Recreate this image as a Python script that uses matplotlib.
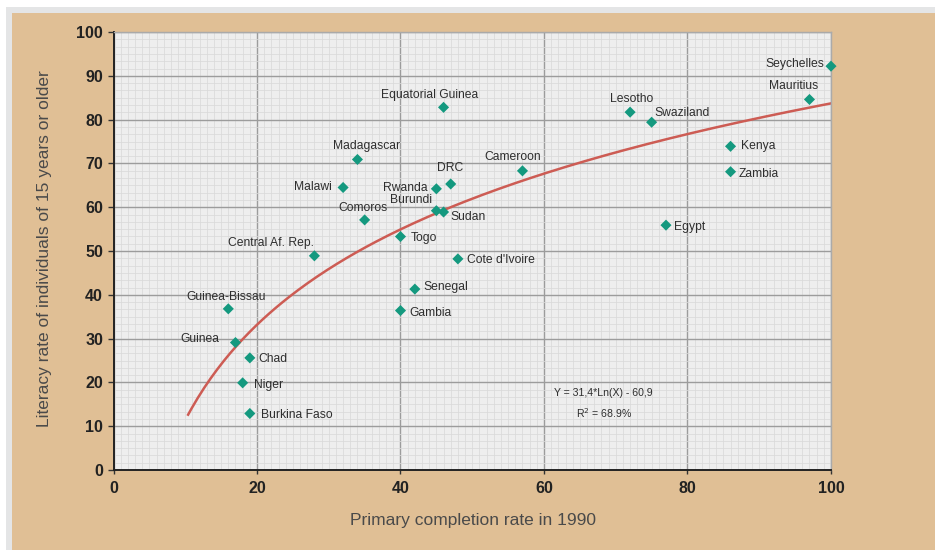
import matplotlib.pyplot as plt
import numpy as np
from matplotlib.patches import Rectangle
from matplotlib.ticker import MultipleLocator

# primary completion rate 1990 (x) vs literacy rate 15+ (y)
countries = [
    "Seychelles", "Mauritius", "Lesotho", "Swaziland", "Kenya", "Zambia",
    "Egypt", "Equatorial Guinea", "Madagascar", "Cameroon", "DRC", "Rwanda",
    "Burundi", "Malawi", "Comoros", "Sudan", "Togo", "Cote d'Ivoire",
    "Central Af. Rep.", "Senegal", "Gambia", "Guinea-Bissau", "Guinea",
    "Chad", "Niger", "Burkina Faso",
]
completion = [100, 97, 72, 75, 86, 86, 77, 46, 34, 57, 47, 45,
              45, 32, 35, 46, 40, 48, 28, 42, 40, 16, 17, 19, 18, 19]
literacy = [92.2, 84.6, 81.7, 79.4, 73.9, 68.1, 55.9, 82.8, 70.9, 68.3, 65.3, 64.2,
            59.2, 64.5, 57.1, 58.9, 53.3, 48.2, 48.9, 41.3, 36.4, 36.8, 29.1,
            25.6, 19.9, 12.9]

# trend: Y = 31,4*Ln(X) - 60,9
fit_a, fit_b = 31.4, -60.9
fit_start, fit_end = 10.4, 100

# label placement: (dx px, dy px, ha, va)
label_pos = {
    "Seychelles": (-7, 2, "right", "center"),
    "Mauritius": (9, 7, "right", "bottom"),
    "Lesotho": (2, 7, "center", "bottom"),
    "Swaziland": (3, 3, "left", "bottom"),
    "Kenya": (10, 0, "left", "center"),
    "Zambia": (8, -2, "left", "center"),
    "Egypt": (8, -2, "left", "center"),
    "Equatorial Guinea": (-14, 6, "center", "bottom"),
    "Madagascar": (9, 7, "center", "bottom"),
    "Cameroon": (-10, 8, "center", "bottom"),
    "DRC": (-1, 10, "center", "bottom"),
    "Rwanda": (-9, 1, "right", "center"),
    "Burundi": (-4, 11, "right", "center"),
    "Malawi": (-11, 0, "right", "center"),
    "Comoros": (-2, 12, "center", "center"),
    "Sudan": (7, -5, "left", "center"),
    "Togo": (10, -1, "left", "center"),
    "Cote d'Ivoire": (9, -1, "left", "center"),
    "Central Af. Rep.": (0, 13, "right", "center"),
    "Senegal": (9, 2, "left", "center"),
    "Gambia": (9, -2, "left", "center"),
    "Guinea-Bissau": (-2, 12, "center", "center"),
    "Guinea": (-16, 4, "right", "center"),
    "Chad": (9, -1, "left", "center"),
    "Niger": (11, -2, "left", "center"),
    "Burkina Faso": (11, -2, "left", "center"),
}

plt.rcParams["font.family"] = ["Liberation Sans", "DejaVu Sans"]

fig = plt.figure(figsize=(9.35, 5.5), dpi=100, facecolor="white")
# grey frame and tan panel behind the chart
fig.patches.append(Rectangle((6 / 935, 0), 1, 1 - 7 / 550, transform=fig.transFigure,
                             facecolor="#e4e5e6", edgecolor="none", zorder=-2))
fig.patches.append(Rectangle((12 / 935, 0), 1, 1 - 13 / 550, transform=fig.transFigure,
                             facecolor="#e0bf95", edgecolor="none", zorder=-1))

ax = fig.add_axes([113.5 / 935, 1 - 470 / 550, 717.5 / 935, 438 / 550])
ax.set_facecolor("#eeeeee")
ax.set_xlim(0, 100)
ax.set_ylim(0, 100)

ax.xaxis.set_major_locator(MultipleLocator(20))
ax.yaxis.set_major_locator(MultipleLocator(10))
ax.xaxis.set_minor_locator(MultipleLocator(1))
ax.yaxis.set_minor_locator(MultipleLocator(10 / 6))
ax.grid(which="minor", color="#dadada", lw=0.55)
ax.grid(which="major", color="#9c9c9c", lw=1.0)
ax.set_axisbelow(True)

for s in ["left", "bottom"]:
    ax.spines[s].set_color("#222222")
    ax.spines[s].set_linewidth(1.4)
for s in ["top", "right"]:
    ax.spines[s].set_color("#aaaaaa")
    ax.spines[s].set_linewidth(1.0)

ax.tick_params(which="minor", length=0)
ax.tick_params(axis="y", which="major", length=4.5, width=1, color="#333333",
               labelsize=11.5, pad=3, labelcolor="#222222")
ax.tick_params(axis="x", which="major", length=3, width=1, color="#333333",
               labelsize=11.5, pad=5, labelcolor="#222222")
for lab in ax.get_xticklabels() + ax.get_yticklabels():
    lab.set_fontweight("bold")

xs = np.linspace(fit_start, fit_end, 200)
ax.plot(xs, fit_a * np.log(xs) + fit_b, color="#cd5c54", lw=1.8, zorder=2)

ax.scatter(completion, literacy, marker="D", s=32, color="#14997f",
           edgecolors="none", zorder=3, clip_on=False)

for name, x, y in zip(countries, completion, literacy):
    dx, dy, ha, va = label_pos[name]
    ax.annotate(name, (x, y), xytext=(dx, dy), textcoords="offset pixels",
                ha=ha, va=va, fontsize=8.7, color="#2e2e2e", zorder=4)

ax.text(68.2, 17.6, "Y = 31,4*Ln(X) - 60,9", ha="center", va="center",
        fontsize=7.6, color="#2e2e2e")
ax.text(68.3, 13.0, "R$^2$ = 68.9%", ha="center", va="center",
        fontsize=7.6, color="#2e2e2e")

fig.text(473 / 935, 1 - 520 / 550, "Primary completion rate in 1990",
         ha="center", va="center", fontsize=12.5, color="#4a4a4a")
fig.text(45 / 935, 1 - 249 / 550, "Literacy rate of individuals of 15 years or older",
         ha="center", va="center", rotation=90, fontsize=12.5, color="#4a4a4a")

fig.savefig("out.png", dpi=100, facecolor=fig.get_facecolor())
